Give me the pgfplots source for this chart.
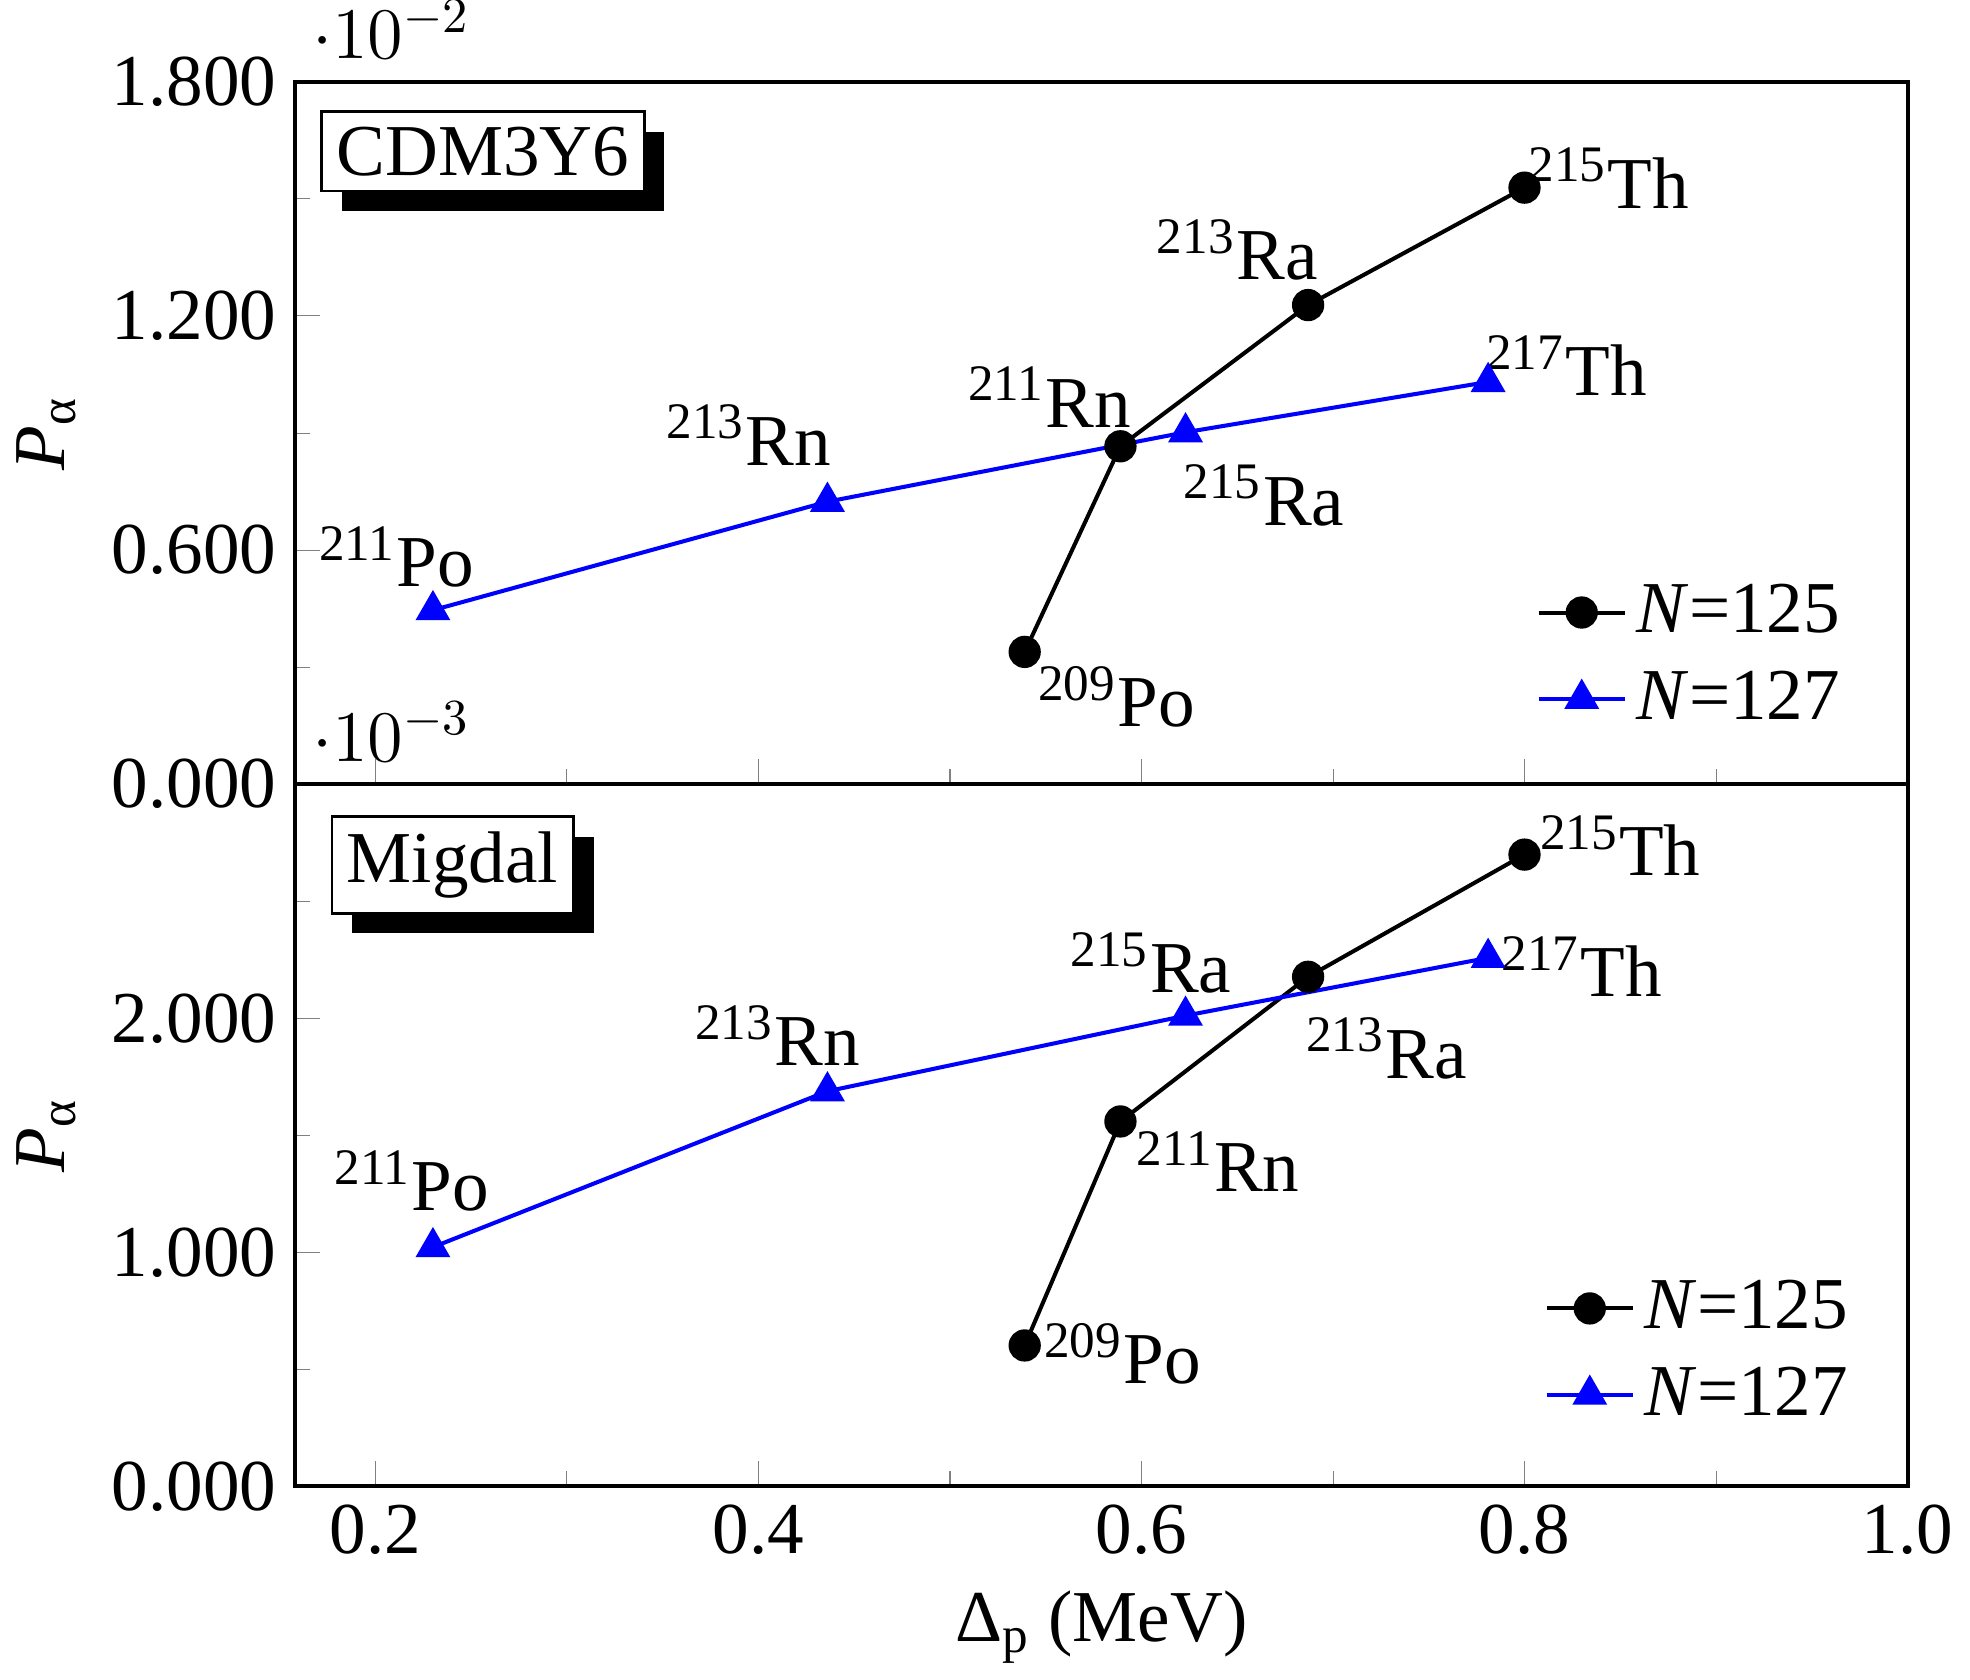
\documentclass[border=0pt]{standalone}
\usepackage{fontspec}
\setmainfont{Liberation Serif}
\usepackage{pgfplots}
\pgfplotsset{compat=1.18}
\usetikzlibrary{shadows}
\tikzset{bx/.style={draw=black,fill=white,line width=0.5pt,inner sep=3pt,
  drop shadow={shadow xshift=4pt,shadow yshift=-4pt,fill=black,opacity=1}}}
\begin{document}
\begin{tikzpicture}[font=\fontsize{14.5}{16}\selectfont]
\pgfplotsset{
 every axis/.style={width=319.75pt,height=139.25pt,scale only axis,
  xmin=0.158,xmax=1.0,line width=0.8pt,
  xtick={0.2,0.4,0.6,0.8,1.0},minor xtick={0.3,0.5,0.7,0.9},
  xtick pos=bottom,ytick pos=left,tick align=inside,
  major tick length=5pt,minor tick length=3pt,
  /pgf/number format/assume math mode=true,
  /pgf/number format/fixed,/pgf/number format/fixed zerofill,
  yticklabel style={/pgf/number format/precision=3},
  xticklabel style={/pgf/number format/precision=1},
  ylabel={\textit{P}\textsubscript{α}},
  legend style={draw=none,fill=none,font=\fontsize{14.5}{16}\selectfont,row sep=2pt},
  legend cell align=left},
 n125/.style={black,line width=0.8pt,mark=*,mark size=2.8pt},
 n127/.style={blue,line width=0.8pt,mark=triangle*,mark size=3.2pt},
}
\begin{axis}[name=top,ymin=0,ymax=0.018,ytick={0,0.006,0.012,0.018},
  minor ytick={0.003,0.009,0.015},xticklabels={},
  legend style={at={(0.975,0.183)},anchor=east}]
\addplot[n125] coordinates {(0.539,0.00339)(0.589,0.00866)(0.687,0.01228)(0.800,0.01529)};
\addlegendentry{\textit{N}=125}
\addplot[n127] coordinates {(0.230,0.00446)(0.436,0.00724)(0.623,0.00902)(0.781,0.01031)};
\addlegendentry{\textit{N}=127}
\node at (axis cs:0.844,0.01554){\textsuperscript{215}Th};
\node at (axis cs:0.650,0.01370){\textsuperscript{213}Ra};
\node at (axis cs:0.822,0.01073){\textsuperscript{217}Th};
\node at (axis cs:0.552,0.00992){\textsuperscript{211}Rn};
\node at (axis cs:0.395,0.00895){\textsuperscript{213}Rn};
\node at (axis cs:0.664,0.00740){\textsuperscript{215}Ra};
\node at (axis cs:0.211,0.00582){\textsuperscript{211}Po};
\node at (axis cs:0.587,0.00223){\textsuperscript{209}Po};
\node[bx] at (rel axis cs:0.1165,0.901){CDM3Y6};
\end{axis}
\begin{axis}[at={(top.south west)},anchor=north west,ymin=0,ymax=0.003,
  ytick={0,0.001,0.002},minor ytick={0.0005,0.0015,0.0025},
  xlabel={Δ\textsubscript{p} (MeV)},
  legend style={at={(0.98,0.192)},anchor=east}]
\addplot[n125] coordinates {(0.539,0.000602)(0.589,0.001559)(0.687,0.002177)(0.800,0.002699)};
\addlegendentry{\textit{N}=125}
\addplot[n127] coordinates {(0.230,0.001022)(0.436,0.001688)(0.623,0.002011)(0.781,0.002258)};
\addlegendentry{\textit{N}=127}
\node at (axis cs:0.850,0.002737){\textsuperscript{215}Th};
\node at (axis cs:0.830,0.002220){\textsuperscript{217}Th};
\node at (axis cs:0.605,0.002237){\textsuperscript{215}Ra};
\node at (axis cs:0.410,0.001925){\textsuperscript{213}Rn};
\node at (axis cs:0.728,0.001871){\textsuperscript{213}Ra};
\node at (axis cs:0.640,0.001387){\textsuperscript{211}Rn};
\node at (axis cs:0.219,0.001306){\textsuperscript{211}Po};
\node at (axis cs:0.590,0.000565){\textsuperscript{209}Po};
\node[bx] at (rel axis cs:0.0977,0.885){Migdal};
\end{axis}
\end{tikzpicture}
\end{document}
